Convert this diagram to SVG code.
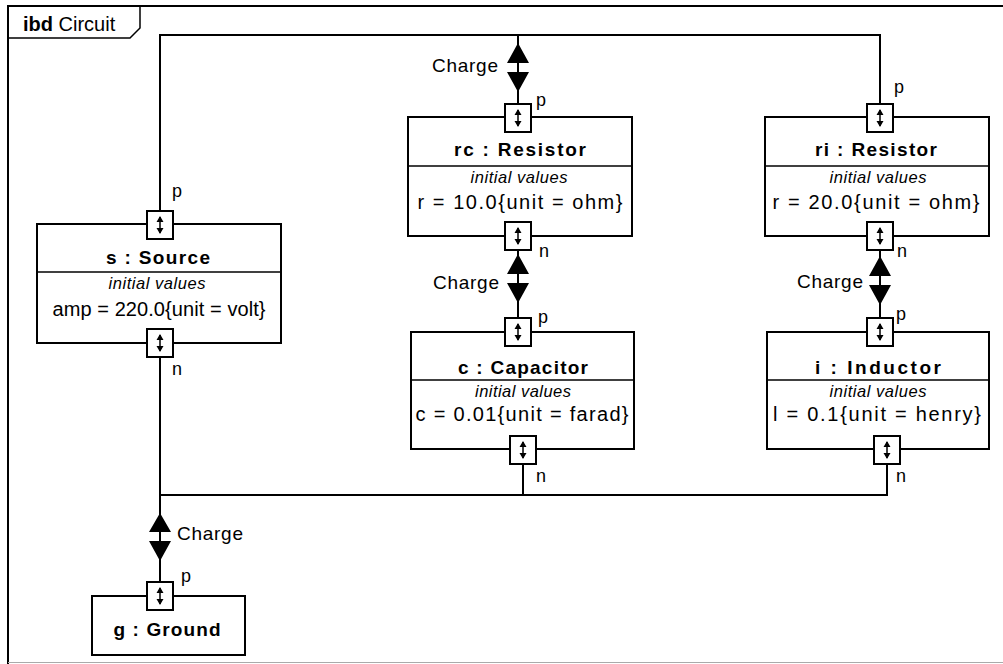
<svg xmlns="http://www.w3.org/2000/svg" xmlns:xlink="http://www.w3.org/1999/xlink" width="1003" height="664" viewBox="0 0 1003 664">
<style>
  text { font-family: "Liberation Sans", Arial, sans-serif; fill: #000; }
  .box { fill: #fff; stroke: #000; stroke-width: 2; }
  .div { stroke: #000; stroke-width: 1.5; fill: none; }
  .hdr { font-size: 19px; font-weight: bold; text-anchor: middle; }
  .iv { font-size: 16.5px; font-style: italic; text-anchor: middle; }
  .val { font-size: 20px; text-anchor: middle; }
  .lbl { font-size: 18px; }
  .chg { font-size: 19px; }
  .wire { stroke: #000; stroke-width: 2; fill: none; }
  .arr { fill: #000; stroke: none; }
</style>
<defs>
  <g id="port">
    <rect x="-13" y="-14" width="26" height="28" fill="#fff" stroke="#000" stroke-width="2"/>
    <path d="M0,-8 V8" stroke="#000" stroke-width="1.5"/>
    <path d="M-3.5,-3 L0,-9 L3.5,-3 Z M-3.5,3 L0,9 L3.5,3 Z" fill="#000"/>
  </g>
</defs>

<g id="frame">
  <path d="M8,664 V6 H1003" fill="none" stroke="#000" stroke-width="2"/>
  <path d="M8,38 H130 L140,28 V6" fill="none" stroke="#000" stroke-width="1.5"/>
  <text x="23" y="31" font-size="20"><tspan font-weight="bold">ibd</tspan> Circuit</text>
  <line x1="8" y1="662.5" x2="1003" y2="662.5" stroke="#aaa" stroke-width="1"/>
</g>

<g id="connectors">
  <path class="wire" d="M160,211 V35 H880 V104"/>
  <path class="wire" d="M518,35 V104"/>
  <path class="wire" d="M518,250 V318"/>
  <path class="wire" d="M880,250 V318"/>
  <path class="wire" d="M160,357 V583"/>
  <path class="wire" d="M160,495 H887 V465"/>
  <path class="wire" d="M523,465 V495"/>
  <path class="arr" d="M507,63 L518,43 L529,63 Z M507,72 L518,92 L529,72 Z"/>
  <path class="arr" d="M507,274 L518,254 L529,274 Z M507,283 L518,303 L529,283 Z"/>
  <path class="arr" d="M869,276 L880,256 L891,276 Z M869,285 L880,305 L891,285 Z"/>
  <path class="arr" d="M149,532 L160,513 L171,532 Z M149,541 L160,561 L171,541 Z"/>
  <text class="chg" x="432" y="72" textLength="66">Charge</text>
  <text class="chg" x="433" y="289" textLength="66">Charge</text>
  <text class="chg" x="797" y="288" textLength="66">Charge</text>
  <text class="chg" x="177" y="540" textLength="66">Charge</text>
</g>

<g id="s">
  <rect class="box" x="37" y="224" width="244" height="119"/>
  <line class="div" x1="37" y1="272" x2="281" y2="272"/>
  <text class="hdr" x="158" y="264" textLength="104">s : Source</text>
  <text class="iv" x="157" y="289" textLength="97">initial values</text>
  <text class="val" x="159" y="316" textLength="213">amp = 220.0{unit = volt}</text>
  <use xlink:href="#port" x="160" y="225"/>
  <use xlink:href="#port" x="160" y="343"/>
  <text class="lbl" x="172" y="197">p</text>
  <text class="lbl" x="172" y="375">n</text>
</g>

<g id="rc">
  <rect class="box" x="408" y="117" width="224" height="119"/>
  <line class="div" x1="408" y1="166" x2="632" y2="166"/>
  <text class="hdr" x="520" y="156" textLength="132">rc : Resistor</text>
  <text class="iv" x="519" y="183" textLength="97">initial values</text>
  <text class="val" x="520" y="209" textLength="205">r = 10.0{unit = ohm}</text>
  <use xlink:href="#port" x="518" y="118"/>
  <use xlink:href="#port" x="518" y="236"/>
  <text class="lbl" x="536" y="106">p</text>
  <text class="lbl" x="539" y="257">n</text>
</g>

<g id="ri">
  <rect class="box" x="765" y="117" width="224" height="119"/>
  <line class="div" x1="765" y1="166" x2="989" y2="166"/>
  <text class="hdr" x="876" y="156" textLength="122">ri : Resistor</text>
  <text class="iv" x="878" y="183" textLength="97">initial values</text>
  <text class="val" x="876" y="209" textLength="207">r = 20.0{unit = ohm}</text>
  <use xlink:href="#port" x="880" y="118"/>
  <use xlink:href="#port" x="880" y="236"/>
  <text class="lbl" x="894" y="93">p</text>
  <text class="lbl" x="897" y="257">n</text>
</g>

<g id="c">
  <rect class="box" x="411" y="332" width="223" height="117"/>
  <line class="div" x1="411" y1="380" x2="634" y2="380"/>
  <text class="hdr" x="523" y="374" textLength="130">c : Capacitor</text>
  <text class="iv" x="523" y="397" textLength="96">initial values</text>
  <text class="val" x="522" y="421" textLength="213">c = 0.01{unit = farad}</text>
  <use xlink:href="#port" x="518" y="332"/>
  <use xlink:href="#port" x="523" y="450"/>
  <text class="lbl" x="538" y="323">p</text>
  <text class="lbl" x="536" y="482">n</text>
</g>

<g id="i">
  <rect class="box" x="767" y="332" width="222" height="117"/>
  <line class="div" x1="767" y1="380" x2="989" y2="380"/>
  <text class="hdr" x="878" y="374" textLength="126">i : Inductor</text>
  <text class="iv" x="878" y="397" textLength="97">initial values</text>
  <text class="val" x="877" y="421" textLength="208">l = 0.1{unit = henry}</text>
  <use xlink:href="#port" x="880" y="332"/>
  <use xlink:href="#port" x="887" y="450"/>
  <text class="lbl" x="896" y="320">p</text>
  <text class="lbl" x="896" y="482">n</text>
</g>

<g id="g">
  <rect class="box" x="92" y="596" width="153" height="59"/>
  <text class="hdr" x="167" y="636" textLength="107">g : Ground</text>
  <use xlink:href="#port" x="160" y="596"/>
  <text class="lbl" x="181" y="582">p</text>
</g>
</svg>
